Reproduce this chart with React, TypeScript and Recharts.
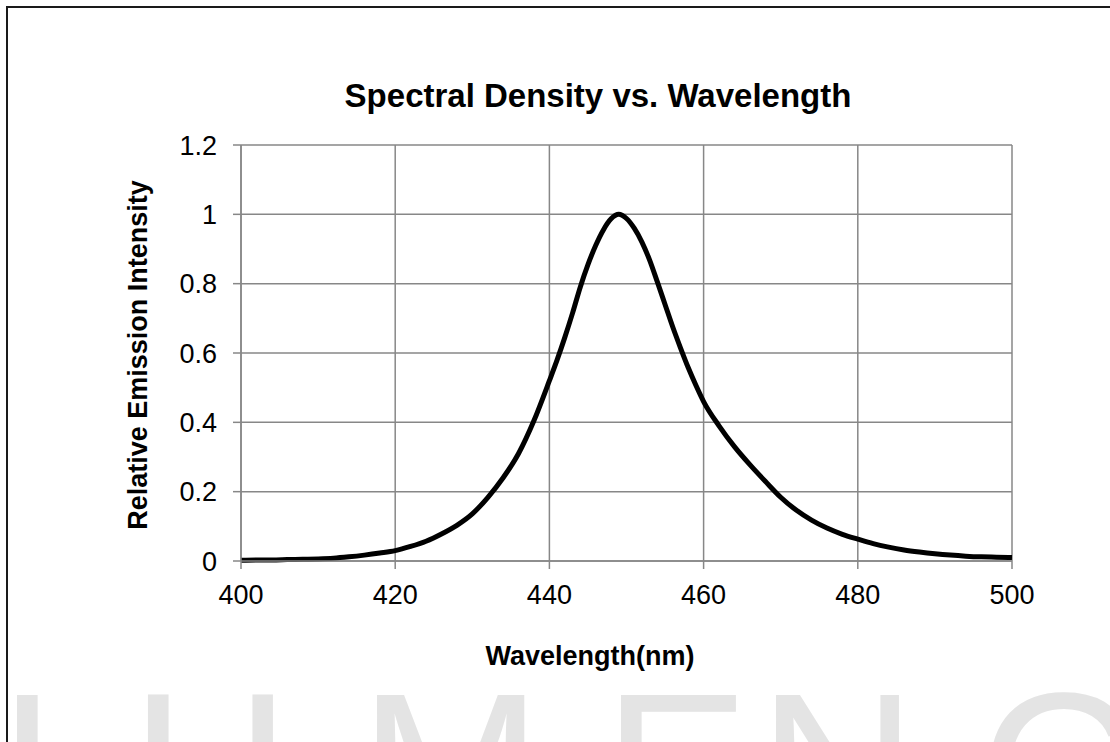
import React from "react";
import { LineChart, Line, XAxis, YAxis, CartesianGrid } from "recharts";

const wavelengths = [
  400, 402, 404, 406, 408, 410, 412, 414, 416, 418, 420, 422, 424, 426, 428, 430, 432, 434, 436, 438,
  440, 441, 442, 443, 444, 445, 446, 447, 448, 449, 450, 451, 452, 453, 454, 455, 456, 457, 458, 459,
  460, 462, 464, 466, 468, 470, 472, 474, 476, 478, 480, 482, 484, 486, 488, 490, 492, 494, 496, 498, 500,
];
const intensity = [
  0.002, 0.003, 0.003, 0.004, 0.005, 0.006, 0.008, 0.012, 0.017, 0.023, 0.03, 0.042, 0.057, 0.078, 0.103, 0.136, 0.183, 0.24, 0.31, 0.405,
  0.52, 0.58, 0.645, 0.715, 0.79, 0.855, 0.91, 0.955, 0.987, 1.0, 0.988, 0.96, 0.92, 0.868, 0.805, 0.74, 0.675, 0.615, 0.558, 0.507,
  0.46, 0.39, 0.33, 0.278, 0.23, 0.184, 0.147, 0.118, 0.095, 0.077, 0.063, 0.05, 0.04, 0.032, 0.026, 0.021, 0.017, 0.014, 0.012, 0.011, 0.01,
];
const xTicks = [400, 420, 440, 460, 480, 500];
const yTicks = [0, 0.2, 0.4, 0.6, 0.8, 1, 1.2];
const title = "Spectral Density vs. Wavelength";
const xTitle = "Wavelength(nm)";
const yTitle = "Relative Emission Intensity";
const watermarkLetters = ["L", "U", "M", "E", "N", "C", "O", "R"];
const watermarkX = [-1, 131, 359, 603, 758, 979, 1160, 1340];

const data = wavelengths.map((w, i) => ({ w, v: intensity[i] }));

const FONT = "'Liberation Sans', Arial, sans-serif";
const GRID = "#878787";

export default function App() {
  return (
    <div
      style={{
        position: "absolute",
        left: 0,
        top: 0,
        width: 1110,
        height: 742,
        background: "#fff",
        overflow: "hidden",
        fontFamily: FONT,
      }}
    >
      <div
        style={{
          position: "absolute",
          left: 6,
          top: 6,
          width: 1110,
          height: 742,
          borderTop: "2px solid #1a1a1a",
          borderLeft: "2px solid #1a1a1a",
        }}
      />
      <svg width={1110} height={742} style={{ position: "absolute", left: 0, top: 0 }}>
        {watermarkLetters.map((ch, i) => (
          <text
            key={ch + i}
            x={watermarkX[i]}
            y={847}
            fontFamily={FONT}
            fontSize={220}
            fill="#e4e4e4"
          >
            {ch}
          </text>
        ))}
      </svg>
      <div style={{ position: "absolute", left: 0, top: 0 }}>
        <LineChart
          width={1110}
          height={742}
          data={data}
          margin={{ top: 145, right: 98, bottom: 141, left: 141 }}
        >
          <CartesianGrid stroke={GRID} strokeWidth={1.5} horizontal vertical />
          <XAxis
            dataKey="w"
            type="number"
            domain={[400, 500]}
            ticks={xTicks}
            height={40}
            stroke={GRID}
            strokeWidth={1.5}
            tickSize={8}
            tickMargin={16}
            tick={{ fill: "#000", fontSize: 27, fontFamily: FONT }}
            interval={0}
          />
          <YAxis
            type="number"
            domain={[0, 1.2]}
            ticks={yTicks}
            width={100}
            stroke={GRID}
            strokeWidth={1.5}
            tickSize={8}
            tickMargin={16}
            tick={{ fill: "#000", fontSize: 27, fontFamily: FONT }}
            interval={0}
          />
          <Line
            type="monotone"
            dataKey="v"
            stroke="#000"
            strokeWidth={5}
            dot={false}
            isAnimationActive={false}
          />
        </LineChart>
      </div>
      <svg
        width={1110}
        height={742}
        style={{ position: "absolute", left: 0, top: 0, pointerEvents: "none" }}
      >
        <text
          x={598}
          y={107}
          textAnchor="middle"
          fontFamily={FONT}
          fontWeight="bold"
          fontSize={33}
          fill="#000"
        >
          {title}
        </text>
        <text
          x={590}
          y={665}
          textAnchor="middle"
          fontFamily={FONT}
          fontWeight="bold"
          fontSize={27}
          fill="#000"
        >
          {xTitle}
        </text>
        <text
          x={147}
          y={355}
          textAnchor="middle"
          transform="rotate(-90 147 355)"
          fontFamily={FONT}
          fontWeight="bold"
          fontSize={27}
          fill="#000"
        >
          {yTitle}
        </text>
      </svg>
    </div>
  );
}
